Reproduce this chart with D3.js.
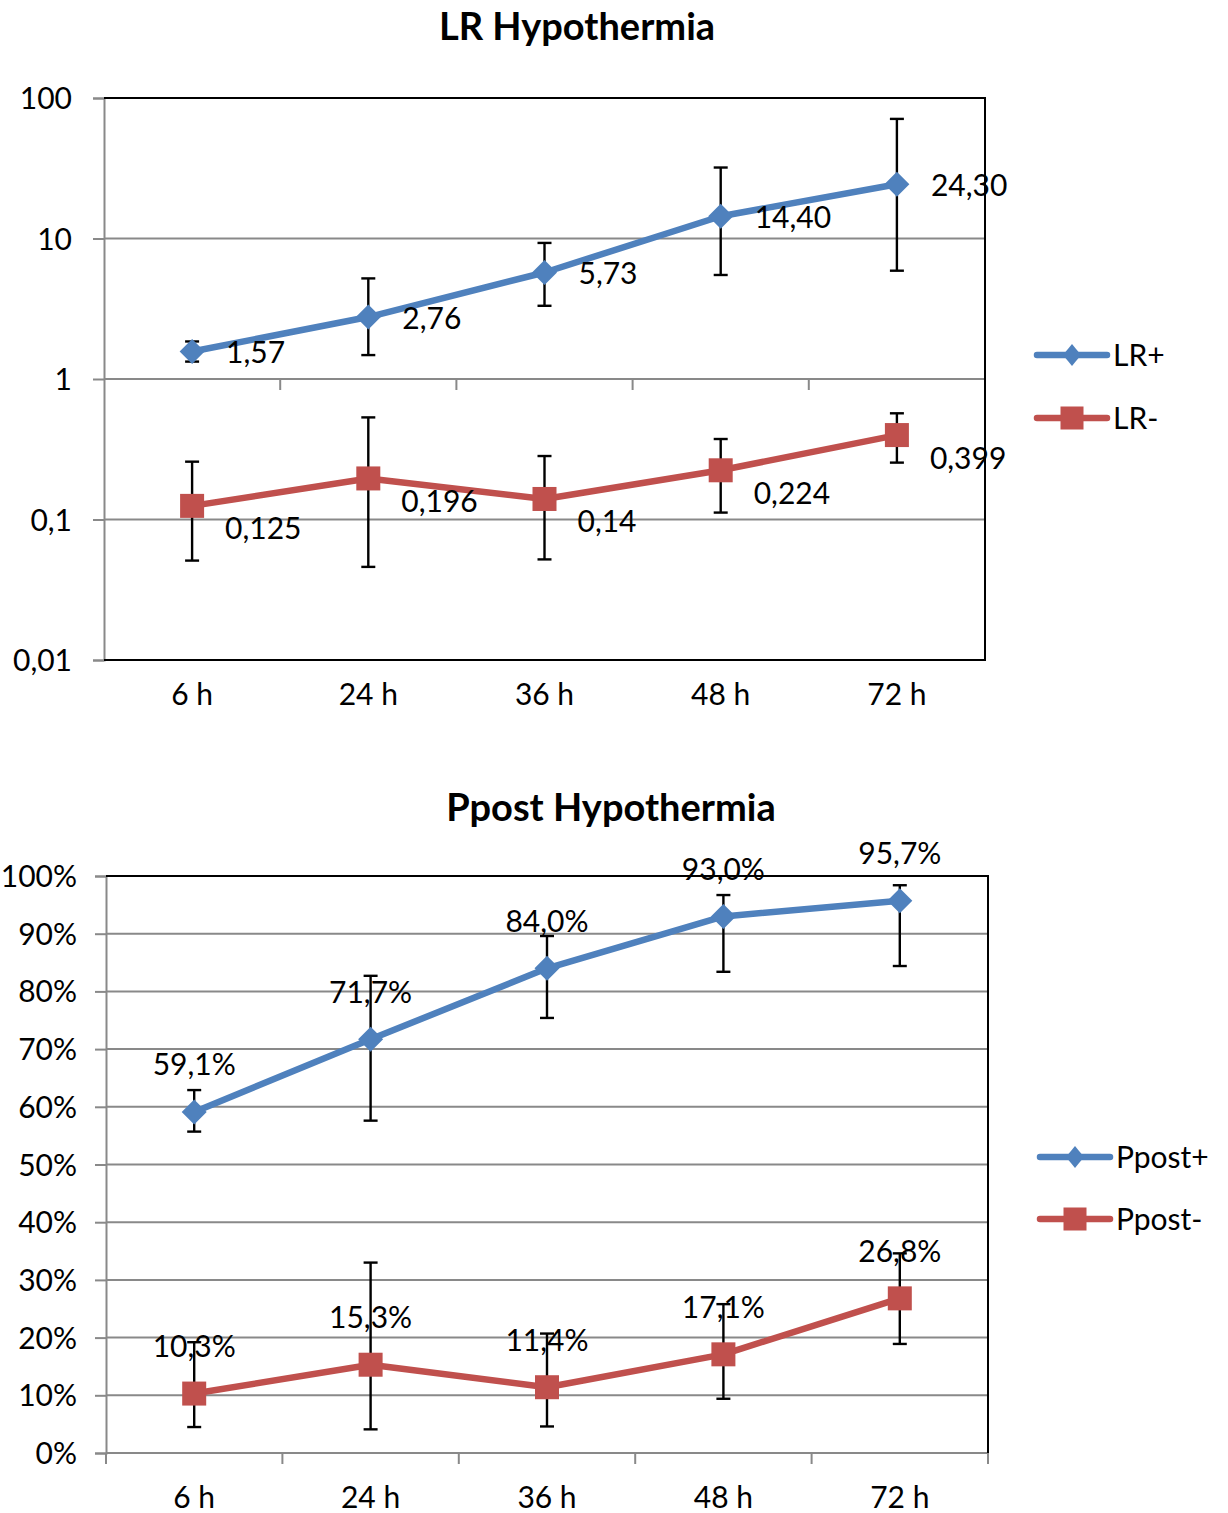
<!DOCTYPE html>
<html><head><meta charset="utf-8">
<script src="https://cdn.jsdelivr.net/npm/d3@7"></script>
<style>body{margin:0;background:#fff}svg{display:block}text{font-family:Lato,"Open Sans",sans-serif;fill:#000}</style>
</head><body>
<svg id="c" width="1228" height="1513"></svg>
<script>
// ---- data ----
const categories = ["6 h","24 h","36 h","48 h","72 h"];
const lrPlus     = [1.57, 2.76, 5.73, 14.40, 24.30];
const lrPlusLow  = [1.33, 1.48, 3.32, 5.5, 5.9];
const lrPlusHigh = [1.85, 5.2, 9.3, 32, 71];
const lrMinus     = [0.125, 0.196, 0.14, 0.224, 0.399];
const lrMinusLow  = [0.051, 0.046, 0.052, 0.112, 0.254];
const lrMinusHigh = [0.258, 0.533, 0.283, 0.374, 0.57];
const lrTicks = [0.01, 0.1, 1, 10, 100];
const lrTickLabels = ["0,01","0,1","1","10","100"];

const ppPlus     = [0.591, 0.717, 0.840, 0.930, 0.957];
const ppPlusLow  = [0.557, 0.576, 0.754, 0.834, 0.844];
const ppPlusHigh = [0.629, 0.827, 0.896, 0.967, 0.984];
const ppMinus     = [0.103, 0.153, 0.114, 0.171, 0.268];
const ppMinusLow  = [0.045, 0.041, 0.046, 0.094, 0.189];
const ppMinusHigh = [0.192, 0.330, 0.207, 0.258, 0.346];
const ppTicks = [0,0.1,0.2,0.3,0.4,0.5,0.6,0.7,0.8,0.9,1];
const ppTickLabels = ["0%","10%","20%","30%","40%","50%","60%","70%","80%","90%","100%"];

const BLUE = "#4F81BD", RED = "#C0504D", GRID = "#898989";
const FS = "30px";
const svg = d3.select("#c");
const comma = s => s.replace(".", ",");

function drawChart(cfg){
  const g = svg.append("g");
  const x = d3.scaleBand().domain(categories).range([cfg.left, cfg.right]).padding(0);
  const cx = c => x(c) + x.bandwidth()/2;
  const y = cfg.y;
  // gridlines
  cfg.ticks.forEach(t => {
    if (t === cfg.ticks[cfg.ticks.length-1]) return;
    g.append("line").attr("x1", cfg.left).attr("x2", cfg.right).attr("y1", y(t)).attr("y2", y(t))
      .attr("stroke", GRID).attr("stroke-width", 2);
  });
  // left axis
  const yAxis = d3.axisLeft(y).tickValues(cfg.ticks).tickFormat((d,i)=>cfg.tickLabels[i]).tickSize(11).tickPadding(cfg.tickPad);
  const ya = g.append("g").attr("transform", `translate(${cfg.left},0)`).call(yAxis);
  ya.select(".domain").attr("stroke", GRID).attr("stroke-width", 2);
  ya.selectAll(".tick line").attr("stroke", GRID).attr("stroke-width", 2);
  ya.selectAll(".tick text").style("font-size", FS).style("font-family", "Lato").attr("fill", "#000").attr("dy", "0.35em");
  // x axis (ticks at band boundaries)
  const ay = y(cfg.axisAt);
  g.append("line").attr("x1", cfg.left).attr("x2", cfg.right).attr("y1", ay).attr("y2", ay).attr("stroke", GRID).attr("stroke-width", 2);
  const bounds = categories.map(c => x(c)).concat([cfg.right]);
  bounds.forEach((b,i) => {
    if (i===0 && !cfg.firstTick) return;
    g.append("line").attr("x1", b).attr("x2", b).attr("y1", ay).attr("y2", ay+11).attr("stroke", GRID).attr("stroke-width", 2);
  });
  // border top/right/bottom
  const yTop = y(cfg.ticks[cfg.ticks.length-1]), yBot = y(cfg.ticks[0]);
  g.append("line").attr("x1", cfg.left).attr("x2", cfg.right+1).attr("y1", yTop).attr("y2", yTop).attr("stroke", "#000").attr("stroke-width", 2);
  g.append("line").attr("x1", cfg.right).attr("x2", cfg.right).attr("y1", yTop).attr("y2", yBot).attr("stroke", "#000").attr("stroke-width", 2);
  if (cfg.blackBottom) g.append("line").attr("x1", cfg.left).attr("x2", cfg.right+1).attr("y1", yBot).attr("y2", yBot).attr("stroke", "#000").attr("stroke-width", 2);
  // x labels
  g.selectAll(".xl").data(categories).enter().append("text")
    .attr("x", d => cx(d)).attr("y", cfg.xLabelY).attr("text-anchor", "middle").attr("dy", "0.35em")
    .style("font-size", FS).text(d => d);
  // title
  g.append("text").attr("x", cfg.titleX).attr("y", cfg.titleY).attr("text-anchor", "middle").attr("dy", "0.35em")
    .style("font-size", "38px").style("font-weight", "bold").text(cfg.title);

  cfg.series.forEach(s => {
    s.values.forEach((v,i) => {
      const px = cx(categories[i]);
      g.append("line").attr("x1", px).attr("x2", px).attr("y1", y(s.low[i])).attr("y2", y(s.high[i])).attr("stroke", "#000").attr("stroke-width", 2.4);
      [s.low[i], s.high[i]].forEach(e => g.append("line").attr("x1", px-7).attr("x2", px+7).attr("y1", y(e)).attr("y2", y(e)).attr("stroke", "#000").attr("stroke-width", 2.4));
    });
  });
  cfg.series.forEach(s => {
    const line = d3.line().x((d,i)=>cx(categories[i])).y(d=>y(d));
    g.append("path").attr("d", line(s.values)).attr("fill", "none").attr("stroke", s.color).attr("stroke-width", 6.5).attr("stroke-linejoin", "round");
    s.values.forEach((v,i) => {
      const px = cx(categories[i]), py = y(v);
      if (s.shape === "diamond") {
        g.append("path").attr("d", `M${px},${py-12.5}L${px+12.5},${py}L${px},${py+12.5}L${px-12.5},${py}Z`).attr("fill", s.color);
      } else {
        g.append("rect").attr("x", px-12).attr("y", py-12).attr("width", 24).attr("height", 24).attr("fill", s.color);
      }
    });
    s.values.forEach((v,i) => {
      g.append("text").attr("x", cx(categories[i]) + s.ldx).attr("y", y(v) + s.ldy).attr("dy", "0.35em")
        .attr("text-anchor", s.anchor).style("font-size", FS).text(s.fmt(v));
    });
  });
  // legend
  cfg.series.forEach((s,k) => {
    const ly = cfg.legendY[k], lx = cfg.legendX;
    g.append("line").attr("x1", lx).attr("x2", lx+70).attr("y1", ly).attr("y2", ly).attr("stroke", s.color).attr("stroke-width", 6.5).attr("stroke-linecap", "round");
    const mx = lx+35;
    if (s.shape === "diamond") g.append("path").attr("d", `M${mx},${ly-11}L${mx+9},${ly}L${mx},${ly+11}L${mx-9},${ly}Z`).attr("fill", s.color);
    else g.append("rect").attr("x", mx-11.5).attr("y", ly-11.5).attr("width", 23).attr("height", 23).attr("fill", s.color);
    g.append("text").attr("x", lx+76).attr("y", ly).attr("dy", "0.35em").style("font-size", FS).text(s.name);
  });
}

drawChart({
  left: 104, right: 985,
  y: d3.scaleLog().domain([0.01, 100]).range([660, 98]),
  ticks: lrTicks, tickLabels: lrTickLabels, axisAt: 1, firstTick: false, blackBottom: true, tickPad: 21,
  xLabelY: 694, title: "LR Hypothermia", titleX: 577, titleY: 27,
  legendX: 1037, legendY: [355, 418],
  series: [
    {name: "LR+", values: lrPlus, low: lrPlusLow, high: lrPlusHigh, color: BLUE, shape: "diamond", ldx: 34, ldy: 1, anchor: "start", fmt: v => comma(v.toFixed(2))},
    {name: "LR-", values: lrMinus, low: lrMinusLow, high: lrMinusHigh, color: RED, shape: "square", ldx: 33, ldy: 23, anchor: "start", fmt: v => comma(String(v))}
  ]
});

drawChart({
  left: 106, right: 988,
  y: d3.scaleLinear().domain([0, 1]).range([1453, 876]),
  ticks: ppTicks, tickLabels: ppTickLabels, axisAt: 0, firstTick: true, blackBottom: false, tickPad: 18,
  xLabelY: 1497, title: "Ppost Hypothermia", titleX: 611, titleY: 808,
  legendX: 1040, legendY: [1157, 1219],
  series: [
    {name: "Ppost+", values: ppPlus, low: ppPlusLow, high: ppPlusHigh, color: BLUE, shape: "diamond", ldx: 0, ldy: -47, anchor: "middle", fmt: v => comma((v*100).toFixed(1)) + "%"},
    {name: "Ppost-", values: ppMinus, low: ppMinusLow, high: ppMinusHigh, color: RED, shape: "square", ldx: 0, ldy: -47, anchor: "middle", fmt: v => comma((v*100).toFixed(1)) + "%"}
  ]
});
</script>
</body></html>
